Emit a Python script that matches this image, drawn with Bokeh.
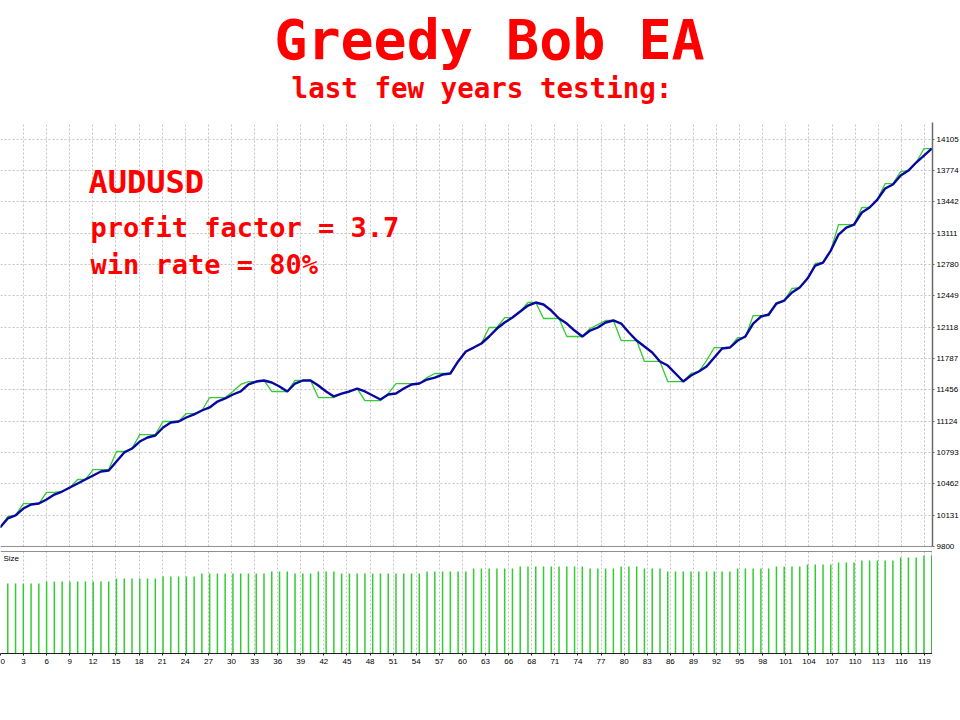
from bokeh.plotting import figure
from bokeh.models import (Range1d, FixedTicker, LinearAxis, Grid, Span, Label,
                          ColumnDataSource)
from bokeh.layouts import column
from bokeh.embed import file_html
from bokeh.resources import INLINE

# ---------------- data ----------------
title_text = "Greedy Bob EA"
subtitle_text = "last few years testing:"
note_symbol = "AUDUSD"
note_pf = "profit factor = 3.7"
note_wr = "win rate = 80%"

trade_no = list(range(121))

equity = [10000, 10096, 10128, 10201, 10244, 10254, 10297, 10349, 10381, 10423,
          10466, 10508, 10550, 10592, 10603, 10698, 10793, 10835, 10909, 10952,
          10973, 11057, 11110, 11121, 11163, 11195, 11237, 11269, 11332, 11364,
          11406, 11438, 11512, 11543, 11554, 11533, 11490, 11438, 11522, 11554,
          11554, 11501, 11438, 11385, 11416, 11438, 11469, 11438, 11395, 11353,
          11406, 11416, 11469, 11512, 11522, 11564, 11585, 11617, 11628, 11755,
          11860, 11902, 11945, 12019, 12103, 12167, 12219, 12283, 12346, 12378,
          12357, 12293, 12209, 12156, 12082, 12019, 12082, 12114, 12167, 12188,
          12156, 12061, 11976, 11913, 11850, 11755, 11712, 11628, 11543, 11607,
          11649, 11702, 11797, 11892, 11902, 11976, 12019, 12156, 12230, 12251,
          12367, 12399, 12484, 12536, 12631, 12769, 12800, 12927, 13096, 13170,
          13202, 13329, 13382, 13466, 13582, 13625, 13720, 13772, 13857, 13931,
          14005]

balance = [10000, 10117, 10128, 10254, 10254, 10254, 10371, 10371, 10381, 10423,
           10508, 10508, 10613, 10613, 10613, 10804, 10804, 10835, 10983, 10983,
           10983, 11121, 11121, 11121, 11205, 11205, 11237, 11374, 11374, 11374,
           11438, 11512, 11543, 11543, 11554, 11438, 11438, 11438, 11554, 11554,
           11554, 11374, 11374, 11374, 11416, 11438, 11469, 11342, 11342, 11342,
           11416, 11522, 11522, 11522, 11522, 11585, 11628, 11628, 11628, 11755,
           11860, 11902, 11945, 12114, 12114, 12219, 12219, 12283, 12378, 12378,
           12209, 12209, 12209, 12019, 12019, 12019, 12103, 12145, 12188, 12188,
           11976, 11976, 11976, 11755, 11755, 11755, 11543, 11543, 11543, 11628,
           11649, 11765, 11902, 11902, 11902, 12008, 12008, 12240, 12240, 12240,
           12378, 12399, 12526, 12536, 12631, 12790, 12800, 12927, 13202, 13202,
           13202, 13382, 13382, 13466, 13635, 13635, 13762, 13772, 13857, 14005,
           14005]

lot_trade = list(range(1, 121))
lot_size = [0.70, 0.70, 0.70, 0.70, 0.70, 0.72, 0.72, 0.72, 0.72, 0.72,
            0.72, 0.72, 0.72, 0.72, 0.75, 0.75, 0.75, 0.75, 0.75, 0.75,
            0.77, 0.77, 0.77, 0.77, 0.77, 0.80, 0.80, 0.80, 0.80, 0.80,
            0.80, 0.80, 0.80, 0.80, 0.82, 0.82, 0.82, 0.80, 0.80, 0.80,
            0.82, 0.82, 0.82, 0.80, 0.80, 0.80, 0.80, 0.80, 0.80, 0.80,
            0.80, 0.80, 0.80, 0.80, 0.82, 0.82, 0.82, 0.82, 0.82, 0.82,
            0.85, 0.85, 0.85, 0.85, 0.85, 0.85, 0.87, 0.87, 0.87, 0.87,
            0.87, 0.87, 0.87, 0.87, 0.87, 0.85, 0.85, 0.85, 0.85, 0.87,
            0.87, 0.87, 0.85, 0.85, 0.85, 0.82, 0.82, 0.82, 0.82, 0.82,
            0.82, 0.82, 0.82, 0.82, 0.85, 0.85, 0.85, 0.85, 0.85, 0.87,
            0.87, 0.87, 0.87, 0.89, 0.89, 0.89, 0.89, 0.91, 0.91, 0.91,
            0.93, 0.93, 0.93, 0.93, 0.93, 0.96, 0.96, 0.96, 0.98, 0.98]

y_tick_values = [9800, 10131, 10462, 10793, 11124, 11456, 11787, 12118,
                 12449, 12780, 13111, 13442, 13774, 14105]

x_tick_labels = ["0", "3", "6", "9", "12", "15", "18", "21", "24", "27", "30",
                 "33", "36", "39", "42", "45", "48", "51", "54", "57", "60",
                 "63", "66", "68", "71", "74", "77", "80", "83", "86", "89",
                 "92", "95", "98", "101", "104", "107", "110", "113", "116",
                 "119"]

# ---------------- style / layout ----------------
RED = "#ff0000"
GREEN = "#33cc33"
BLUE = "#0808a0"
GRID = "#c4c4c4"
MONO = "DejaVu Sans Mono"
SMALL = "Liberation Sans"
FRAME_W = 932

x_step = 2.975
x_tick_pos = [round(0.063 + i * x_step, 3) for i in range(len(x_tick_labels))]
x_range = Range1d(0.063, 120.1)

# header with the titles
head = figure(frame_width=958, frame_height=122, x_range=Range1d(0, 958),
              y_range=Range1d(122, 0), x_axis_type=None, y_axis_type=None,
              toolbar_location=None, output_backend="svg", min_border=0)
head.grid.visible = False
head.outline_line_color = None
head.add_layout(Label(x=489, y=39.5, text=title_text, text_font=MONO,
                      text_font_style="bold", text_font_size="55px",
                      text_color=RED, text_align="center",
                      text_baseline="middle"))
head.add_layout(Label(x=481.5, y=87.5, text=subtitle_text, text_font=MONO,
                      text_font_style="bold", text_font_size="27.5px",
                      text_color=RED, text_align="center",
                      text_baseline="middle"))

# main balance / equity chart
main = figure(frame_width=FRAME_W, frame_height=424, x_range=x_range,
              y_range=Range1d(9800, 14280), x_axis_type=None, y_axis_type=None,
              toolbar_location=None, output_backend="svg",
              min_border_left=0, min_border_top=0, min_border_bottom=5,
              min_border_right=0)
main.outline_line_color = None
yaxis = LinearAxis(ticker=FixedTicker(ticks=y_tick_values, minor_ticks=[]))
yaxis.axis_line_color = "#6a6a6a"
yaxis.axis_line_width = 1.5
yaxis.major_tick_line_color = "#6a6a6a"
yaxis.major_tick_out = 2
yaxis.major_tick_in = 0
yaxis.minor_tick_line_color = None
yaxis.major_label_standoff = 2
yaxis.major_label_text_font = SMALL
yaxis.major_label_text_font_size = "8px"
yaxis.major_label_text_color = "#000000"
main.add_layout(yaxis, "right")

main.add_layout(Grid(dimension=1, ticker=FixedTicker(ticks=y_tick_values),
                     grid_line_color=GRID, grid_line_dash="2 2", grid_line_width=1))
main.add_layout(Grid(dimension=0, ticker=FixedTicker(ticks=x_tick_pos),
                     grid_line_color=GRID, grid_line_dash="2 2", grid_line_width=1))

src = ColumnDataSource(dict(n=trade_no, balance=balance, equity=equity))
main.line("n", "balance", source=src, line_color=GREEN, line_width=1.3)
main.line("n", "equity", source=src, line_color=BLUE, line_width=2.4)
main.add_layout(Span(location=9800, dimension="width", line_color="#202020",
                     line_width=1.2))

main.add_layout(Label(x=88, y=365, x_units="screen", y_units="screen",
                      text=note_symbol, text_font=MONO, text_font_style="bold",
                      text_font_size="32px", text_color=RED,
                      text_baseline="middle"))
main.add_layout(Label(x=90, y=319, x_units="screen", y_units="screen",
                      text=note_pf, text_font=MONO, text_font_style="bold",
                      text_font_size="27px", text_color=RED,
                      text_baseline="middle"))
main.add_layout(Label(x=90, y=282, x_units="screen", y_units="screen",
                      text=note_wr, text_font=MONO, text_font_style="bold",
                      text_font_size="27px", text_color=RED,
                      text_baseline="middle"))

# lot size panel
size = figure(frame_width=FRAME_W, frame_height=102, x_range=x_range,
              y_range=Range1d(0, 1.02), x_axis_type=None, y_axis_type=None,
              toolbar_location=None, output_backend="svg",
              min_border_left=0, min_border_top=0, min_border_bottom=0,
              min_border_right=0)
size.outline_line_color = None
xaxis = LinearAxis(ticker=FixedTicker(ticks=x_tick_pos, minor_ticks=[]),
                   major_label_overrides={p: l for p, l in zip(x_tick_pos, x_tick_labels)})
xaxis.axis_line_color = "#202020"
xaxis.axis_line_width = 1.2
xaxis.major_tick_line_color = "#202020"
xaxis.major_tick_out = 2
xaxis.major_tick_in = 0
xaxis.minor_tick_line_color = None
xaxis.major_label_standoff = 3
xaxis.major_label_text_font = SMALL
xaxis.major_label_text_font_size = "8px"
xaxis.major_label_text_color = "#000000"
size.add_layout(xaxis, "below")

raxis = LinearAxis(ticker=FixedTicker(ticks=[]))
raxis.axis_line_color = "#6a6a6a"
raxis.axis_line_width = 1.5
raxis.major_tick_line_color = None
raxis.minor_tick_line_color = None
raxis.major_label_text_font_size = "0px"
size.add_layout(raxis, "right")

size.add_layout(Grid(dimension=0, ticker=FixedTicker(ticks=x_tick_pos),
                     grid_line_color=GRID, grid_line_dash="2 2", grid_line_width=1))
size.add_layout(Span(location=1.02, dimension="width", line_color="#202020",
                     line_width=1.2))

lsrc = ColumnDataSource(dict(n=lot_trade, lot=lot_size))
size.segment(x0="n", y0=0, x1="n", y1="lot", source=lsrc,
             line_color=GREEN, line_width=1.5)
size.add_layout(Label(x=3, y=100, x_units="screen", y_units="screen",
                      text="Size", text_font=SMALL, text_font_size="8px",
                      text_color="#000000", text_baseline="top"))

layout = column(head, main, size, spacing=0)
open("out.html", "w").write(file_html(layout, INLINE))
